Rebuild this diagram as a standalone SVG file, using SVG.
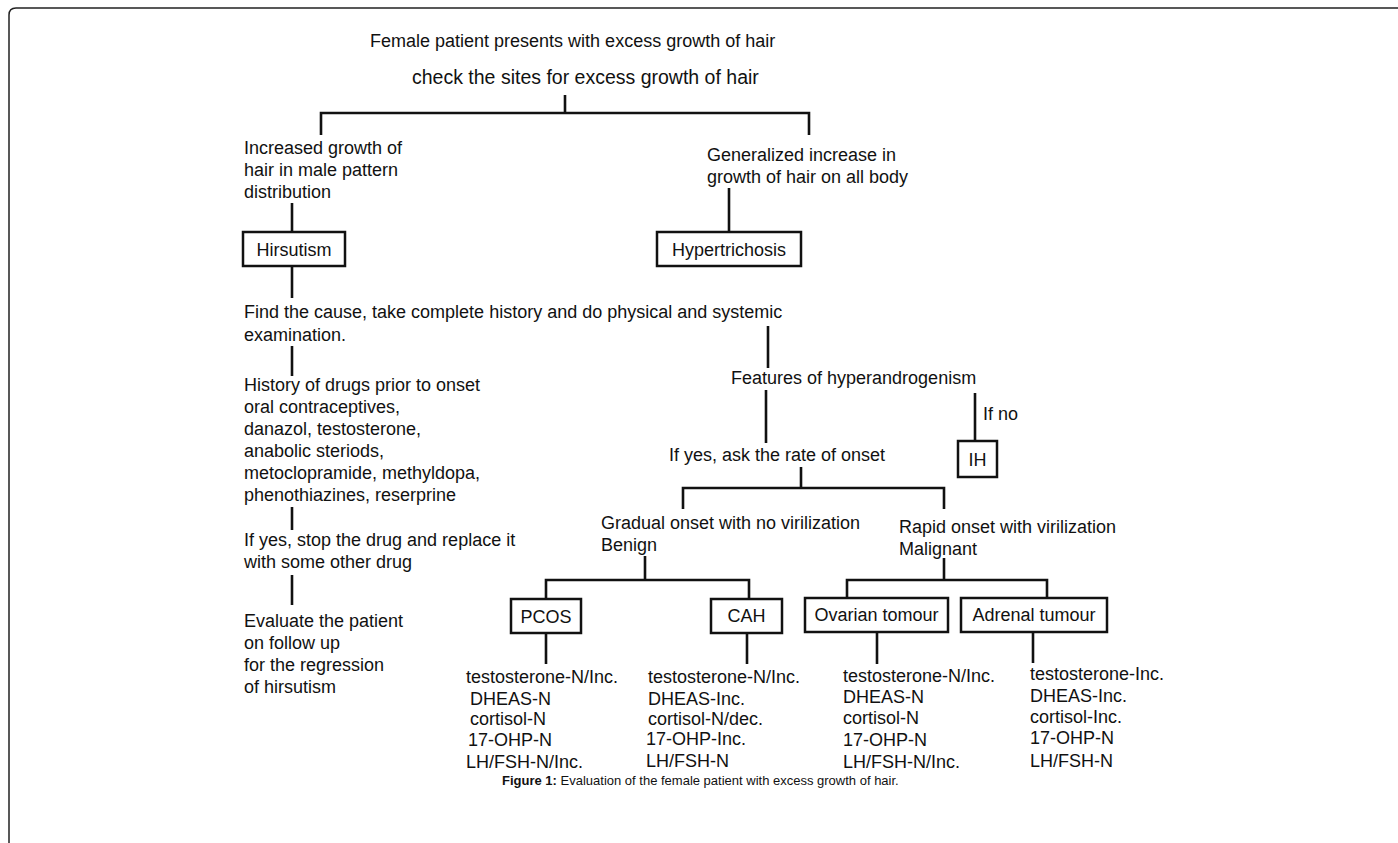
<svg xmlns="http://www.w3.org/2000/svg" width="1398" height="843" viewBox="0 0 1398 843">
<style>
text{font-family:"Liberation Sans",Arial,sans-serif;font-size:18px;fill:#111}
.box{fill:#fff;stroke:#111;stroke-width:2.5}
.c{stroke:#111;stroke-width:2.6;fill:none}
.frame{fill:none;stroke:#222;stroke-width:1.5}
.mid{text-anchor:middle}
.cap{font-size:13px}
</style>
<rect width="1398" height="843" fill="#fff"/>
<path class="frame" d="M9,843 V15 Q9,8 16,8 H1398"/>
<g id="connectors" class="c">
<path d="M565,95 V113 M321,135 V113 H809 V135"/>
<path d="M292,203 V232"/>
<path d="M729,188 V232"/>
<path d="M292,266 V298"/>
<path d="M292,346 V376"/>
<path d="M768,326 V368"/>
<path d="M766,390 V443"/>
<path d="M975,393 V441"/>
<path d="M292,507 V530"/>
<path d="M292,575 V605"/>
<path d="M801,467 V488 M683,509 V488 H944 V509"/>
<path d="M645,556 V580 M546,599 V580 H749 V599"/>
<path d="M944,558 V580 M847,598 V580 H1047 V598"/>
<path d="M546,633 V664 M747,633 V664"/>
<path d="M877,632 V664 M1033,632 V663"/>
</g>
<g id="n-female"><text x="370" y="47">Female patient presents with excess growth of hair</text></g>
<g id="n-check"><text x="412" y="84" style="font-size:19.5px">check the sites for excess growth of hair</text></g>
<g id="n-increased"><text x="244" y="154">Increased growth of<tspan x="244" y="176">hair in male pattern</tspan><tspan x="244" y="198">distribution</tspan></text></g>
<g id="n-generalized"><text x="707" y="161">Generalized increase in<tspan x="707" y="183">growth of hair on all body</tspan></text></g>
<g id="n-hirsutism"><rect class="box" x="243" y="232" width="102" height="34"/><text class="mid" x="294" y="256">Hirsutism</text></g>
<g id="n-hypertrichosis"><rect class="box" x="657" y="232" width="144" height="34"/><text class="mid" x="729" y="256">Hypertrichosis</text></g>
<g id="n-find"><text x="244" y="318">Find the cause, take complete history and do physical and systemic<tspan x="244" y="341">examination.</tspan></text></g>
<g id="n-features"><text x="731" y="384">Features of hyperandrogenism</text></g>
<g id="n-ifno"><text x="983" y="420">If no</text></g>
<g id="n-ih"><rect class="box" x="958" y="441" width="39" height="36"/><text class="mid" x="977.5" y="466">IH</text></g>
<g id="n-history"><text x="244" y="391">History of drugs prior to onset<tspan x="244" y="413">oral contraceptives,</tspan><tspan x="244" y="435">danazol, testosterone,</tspan><tspan x="244" y="457">anabolic steriods,</tspan><tspan x="244" y="479">metoclopramide, methyldopa,</tspan><tspan x="244" y="501">phenothiazines, reserprine</tspan></text></g>
<g id="n-stopdrug"><text x="244" y="546">If yes, stop the drug and replace it<tspan x="244" y="568">with some other drug</tspan></text></g>
<g id="n-evaluate"><text x="244" y="627">Evaluate the patient<tspan x="244" y="649">on follow up</tspan><tspan x="244" y="671">for the regression</tspan><tspan x="244" y="693">of hirsutism</tspan></text></g>
<g id="n-rate"><text x="669" y="461">If yes, ask the rate of onset</text></g>
<g id="n-gradual"><text x="601" y="529">Gradual onset with no virilization<tspan x="601" y="551">Benign</tspan></text></g>
<g id="n-rapid"><text x="899" y="533">Rapid onset with virilization<tspan x="899" y="555">Malignant</tspan></text></g>
<g id="n-pcos"><rect class="box" x="511" y="599" width="70" height="34"/><text class="mid" x="546" y="623">PCOS</text></g>
<g id="n-cah"><rect class="box" x="711" y="599" width="71" height="34"/><text class="mid" x="746.5" y="622">CAH</text></g>
<g id="n-ovarian"><rect class="box" x="805" y="598" width="143" height="34"/><text class="mid" x="876.5" y="621">Ovarian tomour</text></g>
<g id="n-adrenal"><rect class="box" x="961" y="598" width="146" height="34"/><text class="mid" x="1034" y="621">Adrenal tumour</text></g>
<g id="n-pcos-labs"><text x="466" y="683">testosterone-N/Inc.<tspan x="470" y="705">DHEAS-N</tspan><tspan x="470" y="725">cortisol-N</tspan><tspan x="468" y="746">17-OHP-N</tspan><tspan x="466" y="768">LH/FSH-N/Inc.</tspan></text></g>
<g id="n-cah-labs"><text x="648" y="683">testosterone-N/Inc.<tspan x="648" y="705">DHEAS-Inc.</tspan><tspan x="648" y="725">cortisol-N/dec.</tspan><tspan x="646" y="745">17-OHP-Inc.</tspan><tspan x="646" y="767">LH/FSH-N</tspan></text></g>
<g id="n-ovarian-labs"><text x="843" y="682">testosterone-N/Inc.<tspan x="843" y="703">DHEAS-N</tspan><tspan x="843" y="724">cortisol-N</tspan><tspan x="843" y="746">17-OHP-N</tspan><tspan x="843" y="768">LH/FSH-N/Inc.</tspan></text></g>
<g id="n-adrenal-labs"><text x="1030" y="680">testosterone-Inc.<tspan x="1030" y="702">DHEAS-Inc.</tspan><tspan x="1030" y="723">cortisol-Inc.</tspan><tspan x="1030" y="744">17-OHP-N</tspan><tspan x="1030" y="767">LH/FSH-N</tspan></text></g>
<g id="caption"><text class="cap" x="502" y="785"><tspan font-weight="bold">Figure 1:</tspan> Evaluation of the female patient with excess growth of hair.</text></g>
</svg>
